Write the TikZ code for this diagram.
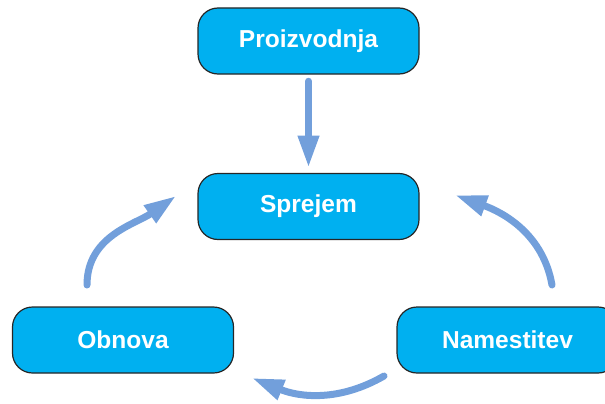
\documentclass[tikz,border=0pt]{standalone}
\usepackage{fontspec}
\setmainfont{Liberation Sans}
\usetikzlibrary{arrows.meta}
\definecolor{boxblue}{HTML}{00B0F0}
\definecolor{arrowblue}{HTML}{729FDB}

\begin{document}
\begin{tikzpicture}[x=0.75pt, y=-0.75pt,
  phase/.style={rectangle, rounded corners=15pt, draw=black!85, line width=0.9pt, fill=boxblue,
    minimum width=165.75pt, minimum height=49.5pt, text=white,
    font=\fontsize{18.4}{22}\selectfont\bfseries},
  flow/.style={draw=arrowblue, line width=5.25pt, line cap=round,
    -{Triangle[length=24pt, width=15pt]}}]
\useasboundingbox (0,0) rectangle (605,403);

\node (proizv)[phase] at (308.5, 41) {Proizvodnja};
\node (sprejem)[phase] at (308.5, 206.5) {Sprejem};
\node (obnova)[phase] at (123, 340) {Obnova};
\node (namest)[phase] at (507.5, 340) {Namestitev};

\coordinate (obS) at (87, 285);
\coordinate (obE) at (176, 196);
\coordinate (naS) at (552, 285);
\coordinate (naE) at (455, 195);
\coordinate (spS) at (384, 376);
\coordinate (spE) at (252, 378);

\draw[flow, shorten <=5pt, shorten >=4pt] (proizv) -- (sprejem);
\draw[flow] (obS) to[out=90, in=-145] (obE);
\draw[flow] (naS) to[out=100, in=-20] (naE);
\draw[flow] (spS) to[out=-150, in=-22] (spE);
\end{tikzpicture}
\end{document}
